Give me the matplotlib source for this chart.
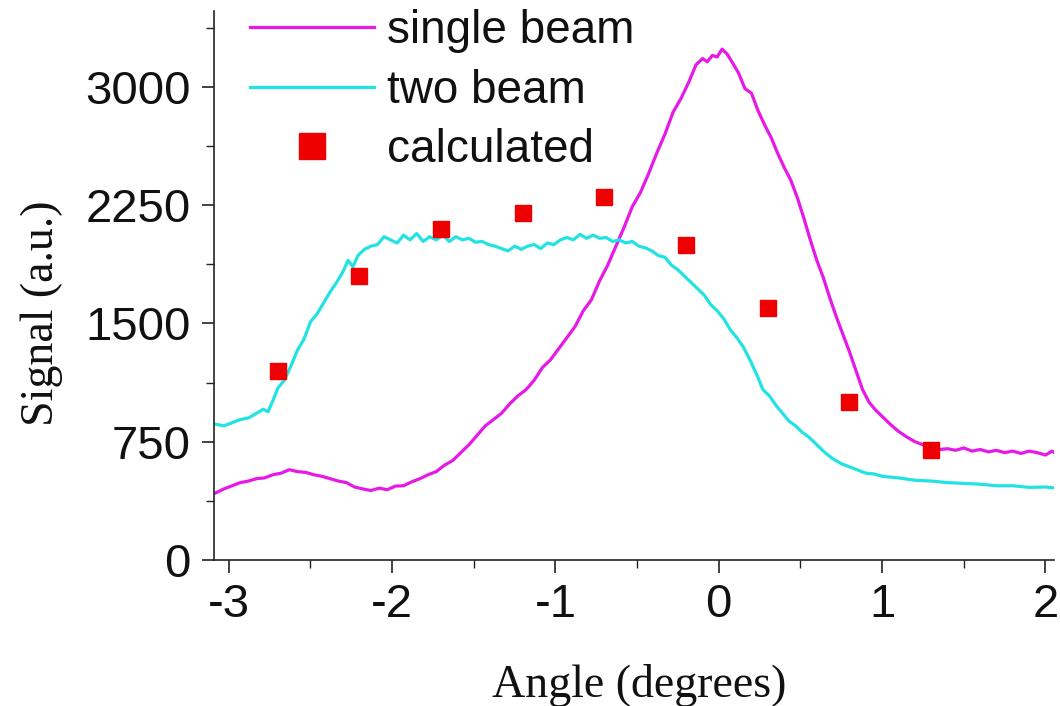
import matplotlib
matplotlib.use("Agg")
import matplotlib.pyplot as plt
from matplotlib.ticker import MultipleLocator

plt.rcParams["axes.unicode_minus"] = False

# ---- data ----
single_x = [-3.08, -3.03, -2.98, -2.93, -2.88, -2.83, -2.78, -2.73, -2.68, -2.63,
            -2.58, -2.53, -2.48, -2.43, -2.38, -2.33, -2.28, -2.23, -2.18, -2.13,
            -2.08, -2.03, -1.98, -1.93, -1.88, -1.83, -1.78, -1.73, -1.68, -1.63,
            -1.58, -1.53, -1.48, -1.43, -1.38, -1.33, -1.28, -1.23, -1.18, -1.13,
            -1.08, -1.03, -0.98, -0.93, -0.88, -0.83, -0.78, -0.73, -0.68, -0.63,
            -0.58, -0.53, -0.48, -0.43, -0.38, -0.33, -0.28, -0.23, -0.18, -0.14,
            -0.10, -0.07, -0.04, -0.01, 0.02, 0.05, 0.08, 0.12, 0.16, 0.20,
            0.24, 0.28, 0.32, 0.36, 0.40, 0.44, 0.48, 0.52, 0.56, 0.60,
            0.64, 0.68, 0.72, 0.76, 0.80, 0.84, 0.88, 0.92, 0.96, 1.00,
            1.05, 1.10, 1.15, 1.20, 1.25, 1.30, 1.35, 1.40, 1.45, 1.50,
            1.55, 1.60, 1.65, 1.70, 1.75, 1.80, 1.85, 1.90, 1.95, 2.00,
            2.04, 2.07]
single_y = [425, 450, 470, 490, 500, 515, 520, 540, 550, 572,
            560, 555, 540, 530, 515, 500, 490, 462, 450, 440,
            455, 445, 468, 470, 495, 515, 540, 560, 600, 630,
            680, 730, 790, 850, 890, 930, 990, 1040, 1080, 1140,
            1220, 1270, 1340, 1410, 1480, 1580, 1650, 1770, 1870, 1990,
            2110, 2240, 2330, 2450, 2580, 2700, 2840, 2930, 3040, 3140,
            3180, 3160, 3200, 3190, 3240, 3210, 3160, 3090, 2990, 2960,
            2850, 2760, 2680, 2580, 2490, 2410, 2300, 2170, 2030, 1900,
            1790, 1660, 1540, 1430, 1320, 1200, 1080, 1000, 950, 910,
            860, 815, 780, 750, 730, 715, 700, 705, 695, 710,
            690, 700, 685, 695, 680, 690, 675, 690, 680, 665,
            690, 670]

two_x = [-3.08, -3.03, -2.98, -2.93, -2.88, -2.83, -2.79, -2.76, -2.73, -2.70,
         -2.66, -2.62, -2.58, -2.54, -2.50, -2.46, -2.42, -2.38, -2.34, -2.30,
         -2.27, -2.24, -2.21, -2.17, -2.13, -2.09, -2.05, -2.01, -1.97, -1.93,
         -1.89, -1.85, -1.81, -1.77, -1.73, -1.69, -1.65, -1.61, -1.57, -1.53,
         -1.49, -1.45, -1.41, -1.37, -1.33, -1.29, -1.25, -1.21, -1.17, -1.13,
         -1.09, -1.05, -1.01, -0.97, -0.93, -0.89, -0.85, -0.81, -0.77, -0.73,
         -0.69, -0.65, -0.61, -0.57, -0.53, -0.49, -0.45, -0.41, -0.37, -0.33,
         -0.29, -0.25, -0.21, -0.17, -0.13, -0.09, -0.05, -0.01, 0.03, 0.07,
         0.11, 0.15, 0.19, 0.23, 0.27, 0.31, 0.35, 0.39, 0.43, 0.47,
         0.51, 0.55, 0.60, 0.65, 0.70, 0.75, 0.80, 0.85, 0.90, 0.95,
         1.00, 1.10, 1.20, 1.30, 1.40, 1.50, 1.60, 1.70, 1.80, 1.90,
         2.00, 2.07]
two_y = [860, 850, 870, 890, 900, 930, 955, 940, 1010, 1090,
         1140, 1230, 1330, 1400, 1510, 1560, 1630, 1700, 1760, 1830,
         1900, 1860, 1930, 1970, 1990, 2000, 2050, 2030, 2010, 2060,
         2030, 2070, 2020, 2050, 2030, 2060, 2020, 2050, 2030, 2040,
         2015, 2020, 2000, 1990, 1975, 1960, 1990, 1970, 1990, 2000,
         1975, 2010, 2000, 2030, 2045, 2030, 2065, 2040, 2060, 2040,
         2045, 2020, 2030, 2010, 2020, 1990, 1980, 1960, 1930, 1920,
         1870, 1840, 1800, 1760, 1720, 1680, 1620, 1580, 1530, 1460,
         1410, 1350, 1270, 1180, 1080, 1040, 980, 930, 880, 850,
         810, 780, 730, 680, 640, 610, 590, 570, 550, 545,
         530, 520, 505, 500, 490, 485, 480, 470, 470, 460,
         462, 455]

calc_x = [-2.7, -2.2, -1.7, -1.2, -0.7, -0.2, 0.3, 0.8, 1.3]
calc_y = [1200, 1800, 2100, 2200, 2300, 2000, 1600, 1000, 700]

x_ticks = [-3, -2, -1, 0, 1, 2]
y_ticks = [0, 750, 1500, 2250, 3000]

fig = plt.figure(figsize=(10.6, 7.06), dpi=100)
ax = fig.add_axes([0.202, 0.207, 0.792, 0.777])

ax.plot(single_x, single_y, color="#E619E6", lw=2.3, label="single beam")
ax.plot(two_x, two_y, color="#22E3E3", lw=2.3, label="two beam")
ax.plot(calc_x, calc_y, ls="none", marker="s", ms=11, color="#EE0000",
        mec="#EE0000", label="calculated")

ax.set_xlim(-3.09, 2.05)
ax.set_ylim(0, 3480)
ax.set_xticks(x_ticks)
ax.set_yticks(y_ticks)
ax.xaxis.set_minor_locator(MultipleLocator(0.5))
ax.yaxis.set_minor_locator(MultipleLocator(375))

for s in ["top", "right"]:
    ax.spines[s].set_visible(False)
for s in ["left", "bottom"]:
    ax.spines[s].set_linewidth(1.2)
    ax.spines[s].set_color("#222222")

ax.tick_params(which="major", direction="out", length=9, width=1.2,
               colors="#222222", pad=8)
ax.tick_params(which="minor", direction="out", length=5.5, width=1.0,
               colors="#222222")
for lab in ax.get_xticklabels() + ax.get_yticklabels():
    lab.set_fontfamily("Liberation Sans")
    lab.set_fontsize(34)
    lab.set_color("#111111")

ax.set_xlabel("Angle (degrees)", fontfamily="Liberation Serif", fontsize=33,
              color="#111111")
ax.set_ylabel("Signal (a.u.)", fontfamily="Liberation Serif", fontsize=33,
              color="#111111")
ax.xaxis.set_label_coords(0.506, -0.19)
ax.yaxis.set_label_coords(-0.18, 0.449)

leg = ax.legend(loc="upper left", bbox_to_anchor=(0.043, 1.004), frameon=False,
                prop={"family": "Liberation Sans", "size": 33},
                handlelength=2.7, handletextpad=0.28, labelspacing=0.34,
                borderpad=0, borderaxespad=0, markerscale=1.7)
for t in leg.get_texts():
    t.set_color("#111111")

fig.savefig("out.png", dpi=100, facecolor="white")
